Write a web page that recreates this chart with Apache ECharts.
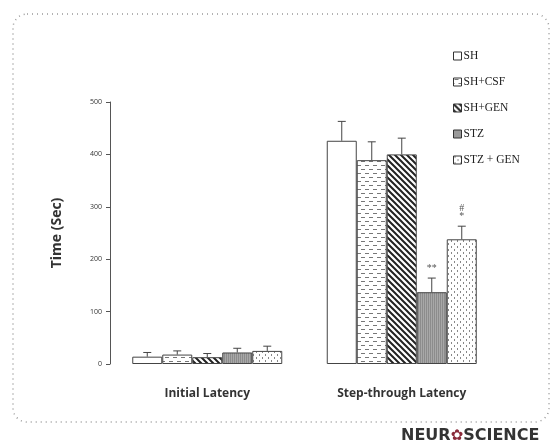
<!DOCTYPE html>
<html>
<head>
<meta charset="utf-8">
<script src="https://cdn.jsdelivr.net/npm/echarts@6/dist/echarts.min.js"></script>
<style>
  html, body { margin: 0; padding: 0; background: #fff; }
  #chart { width: 552px; height: 448px; }
</style>
</head>
<body>
<div id="chart"></div>
<script>
var categories = ['Initial Latency', 'Step-through Latency'];
var groups = ['SH', 'SH+CSF', 'SH+GEN', 'STZ', 'STZ + GEN'];
// mean values per group: [initial, step-through]
var shVals = [14, 426];
var shCsfVals = [18, 389];
var shGenVals = [13, 400];
var stzVals = [22, 137];
var stzGenVals = [25, 238];
// error bar sizes (SEM)
var shErr = [8, 37];
var shCsfErr = [7, 35];
var shGenErr = [7, 31];
var stzErr = [8, 27];
var stzGenErr = [9, 25];
// significance marks (step-through only)
var sigMarks = [['', ''], ['', ''], ['', ''], ['', '**'], ['', '#\n*']];

var values = [shVals, shCsfVals, shGenVals, stzVals, stzGenVals];
var errors = [shErr, shCsfErr, shGenErr, stzErr, stzGenErr];

// pattern fills drawn on small canvases
function tile(w, h, bg, draw) {
  var c = document.createElement('canvas');
  c.width = w; c.height = h;
  var ctx = c.getContext('2d');
  ctx.fillStyle = bg;
  ctx.fillRect(0, 0, w, h);
  draw(ctx);
  return { image: c, repeat: 'repeat' };
}
var fills = [
  '#ffffff',
  tile(8, 8, '#ffffff', function (ctx) {
    ctx.fillStyle = '#777';
    ctx.fillRect(1, 1, 4, 1);
    ctx.fillRect(5, 5, 3, 1);
    ctx.fillRect(0, 5, 1, 1);
  }),
  tile(6, 6, '#ffffff', function (ctx) {
    ctx.strokeStyle = '#222';
    ctx.lineWidth = 2;
    ctx.beginPath();
    ctx.moveTo(-1, -1); ctx.lineTo(7, 7);
    ctx.moveTo(-4, 2); ctx.lineTo(2, 8);
    ctx.moveTo(4, -2); ctx.lineTo(10, 4);
    ctx.stroke();
  }),
  tile(2, 2, '#a8a8a8', function (ctx) {
    ctx.fillStyle = '#8c8c8c';
    ctx.fillRect(0, 0, 1, 2);
  }),
  tile(6, 6, '#ffffff', function (ctx) {
    ctx.fillStyle = '#888';
    ctx.fillRect(1, 0, 1, 2);
    ctx.fillRect(4, 3, 1, 2);
  })
];

var series = [];
for (var i = 0; i < groups.length; i++) {
  series.push({
    name: groups[i],
    type: 'bar',
    barWidth: 30,
    barGap: '0%',
    data: values[i],
    itemStyle: { color: fills[i], borderColor: '#444', borderWidth: 1 }
  });
}

// error bars + significance marks
var errData = [];
for (var g = 0; g < groups.length; g++) {
  for (var k = 0; k < categories.length; k++) {
    errData.push([k, values[g][k], errors[g][k], g, sigMarks[g][k]]);
  }
}
series.push({
  type: 'custom',
  name: 'err',
  silent: true,
  z: 5,
  data: errData,
  renderItem: function (params, api) {
    var k = api.value(0), v = api.value(1), e = api.value(2), g = api.value(3);
    var mark = errData[params.dataIndex][4];
    var base = api.coord([k, v]);
    var top = api.coord([k, v + e]);
    var x = base[0] + (g - 2) * 30;
    var children = [
      { type: 'line', shape: { x1: x, y1: base[1], x2: x, y2: top[1] }, style: { stroke: '#444', lineWidth: 1 } },
      { type: 'line', shape: { x1: x - 4, y1: top[1], x2: x + 4, y2: top[1] }, style: { stroke: '#444', lineWidth: 1 } }
    ];
    if (mark) {
      children.push({
        type: 'text',
        style: {
          text: mark, x: x, y: top[1] - 6, align: 'center', verticalAlign: 'bottom',
          font: '10px "Liberation Serif"', fill: '#555', lineHeight: 8
        }
      });
    }
    return { type: 'group', children: children };
  }
});

var chart = echarts.init(document.getElementById('chart'));
chart.setOption({
  animation: false,
  backgroundColor: '#fff',
  grid: { left: 110, right: 53, top: 102, bottom: 84 },
  legend: {
    data: groups,
    orient: 'vertical',
    left: 448,
    top: 45,
    itemWidth: 8,
    itemHeight: 8,
    itemGap: 14,
    icon: 'rect',
    itemStyle: { borderColor: '#333', borderWidth: 1 },
    textStyle: { fontFamily: 'Liberation Serif', fontSize: 11.5, color: '#222', padding: [0, 0, 0, -3] }
  },
  xAxis: {
    type: 'category',
    data: categories,
    axisLine: { show: false },
    axisTick: { show: false },
    axisLabel: { margin: 24, fontFamily: 'Open Sans', fontWeight: 'bold', fontSize: 12, color: '#333' }
  },
  yAxis: {
    type: 'value',
    min: 0,
    max: 500,
    interval: 100,
    name: 'Time (Sec)',
    nameLocation: 'middle',
    nameGap: 46,
    nameTextStyle: { fontFamily: 'Open Sans', fontWeight: 'bold', fontSize: 14, color: '#333' },
    axisLine: { show: true, lineStyle: { color: '#555' } },
    axisTick: { show: true, length: 4, lineStyle: { color: '#555' } },
    axisLabel: { fontFamily: 'Open Sans', fontSize: 7, color: '#333', margin: 8 },
    splitLine: { show: false }
  },
  graphic: [
    {
      type: 'rect',
      silent: true,
      shape: { x: 13, y: 14, width: 536, height: 408, r: 14 },
      style: { fill: 'none', stroke: '#999', lineWidth: 1.5, lineDash: [1, 4] }
    },
    {
      type: 'text',
      left: 401,
      top: 428,
      style: {
        text: '{a|NEUR}{b|✿}{a|SCIENCE}',
        rich: {
          a: { fontFamily: 'DejaVu Sans', fontWeight: 'bold', fontSize: 16, fill: '#333' },
          b: { fontFamily: 'DejaVu Sans', fontSize: 15, fill: '#8a2a3a' }
        }
      }
    }
  ],
  series: series
});
</script>
</body>
</html>
